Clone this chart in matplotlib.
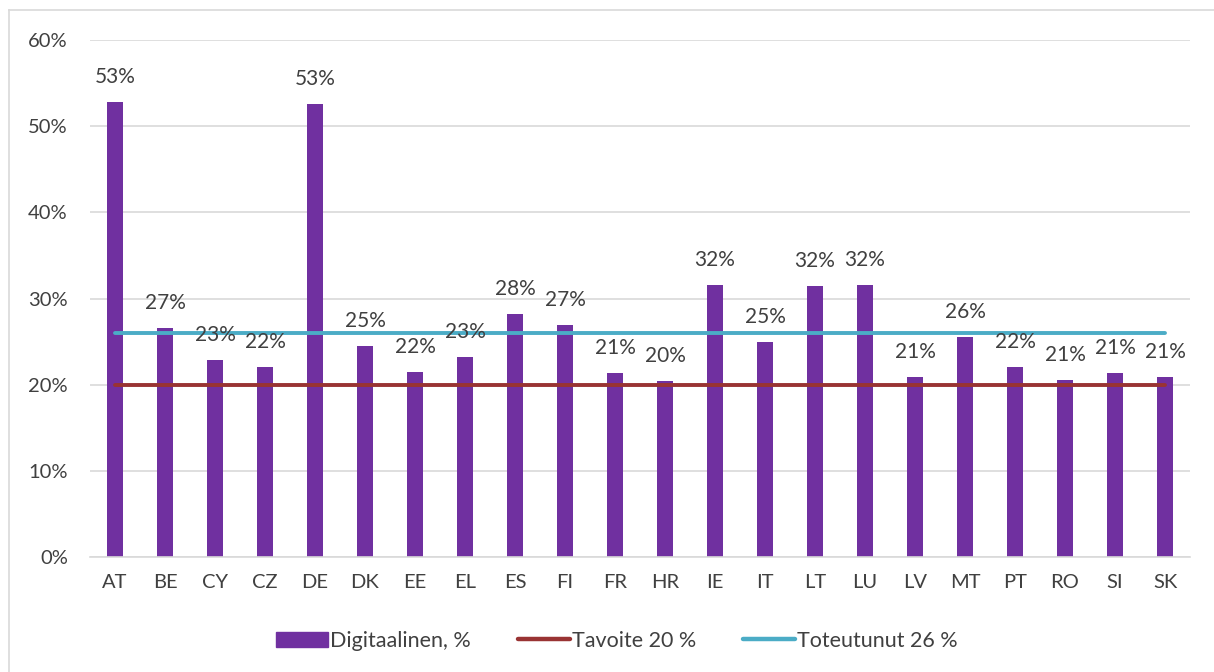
import matplotlib.pyplot as plt
from matplotlib.lines import Line2D

countries = ['AT', 'BE', 'CY', 'CZ', 'DE', 'DK', 'EE', 'EL', 'ES', 'FI', 'FR',
             'HR', 'IE', 'IT', 'LT', 'LU', 'LV', 'MT', 'PT', 'RO', 'SI', 'SK']
digital = [52.8, 26.6, 22.9, 22.0, 52.6, 24.5, 21.5, 23.2, 28.2, 26.9, 21.3,
           20.4, 31.6, 25.0, 31.5, 31.6, 20.9, 25.5, 22.0, 20.5, 21.4, 20.9]
target = 20
actual = 26

PURPLE = '#7030A0'
RED = '#993333'
BLUE = '#4BACC6'
TEXT = '#404040'

plt.rcParams['font.family'] = ['Lato', 'DejaVu Sans']

fig = plt.figure(figsize=(12.14, 6.72), dpi=100)
ax = fig.add_axes([90 / 1214, 115 / 672, 1100 / 1214, 517 / 672])

x = list(range(len(countries)))
ax.bar(x, digital, width=0.32, color=PURPLE, label='Digitaalinen, %', zorder=2)
ax.plot([x[0], x[-1]], [target, target], color=RED, lw=2.8, zorder=3,
        solid_capstyle='round', label='Tavoite 20 %')
ax.plot([x[0], x[-1]], [actual, actual], color=BLUE, lw=2.8, zorder=3,
        solid_capstyle='round', label='Toteutunut 26 %')

# data labels above bars (round half up like Excel)
for xi, v in zip(x, digital):
    ax.annotate(f'{int(v + 0.5)}%', (xi, v), xytext=(0, 18), textcoords='offset points',
                ha='center', va='center', fontsize=15, color=TEXT, zorder=4)

ax.set_xlim(-0.5, len(countries) - 0.5)
ax.set_ylim(0, 60)
ax.set_yticks(range(0, 61, 10))
ax.set_yticklabels([f'{t}%' for t in range(0, 61, 10)])
ax.set_xticks(x)
ax.set_xticklabels(countries)
ax.tick_params(length=0, labelsize=14.5, labelcolor=TEXT)
ax.tick_params(axis='y', pad=16)
ax.tick_params(axis='x', pad=12)
ax.grid(axis='y', color='#D9D9D9', lw=1.2, zorder=0)
for s in ['top', 'right', 'left']:
    ax.spines[s].set_visible(False)
ax.spines['bottom'].set_color('#D9D9D9')
ax.spines['bottom'].set_linewidth(1.2)

handles = [plt.Rectangle((0, 0), 1, 1, color=PURPLE),
           Line2D([], [], color=RED, lw=3.2, solid_capstyle='round'),
           Line2D([], [], color=BLUE, lw=3.2, solid_capstyle='round')]
fig.legend(handles, ['Digitaalinen, %', 'Tavoite 20 %', 'Toteutunut 26 %'],
           loc='center', bbox_to_anchor=(617 / 1214, 1 - 641 / 672), ncol=3,
           frameon=False, fontsize=15.5, labelcolor=TEXT, handlelength=2.4,
           handletextpad=0.1, columnspacing=2.2)

# chart border
fig.add_artist(Line2D([9 / 1214, 9 / 1214], [0, 1 - 10 / 672], color='#D9D9D9', lw=1.2))
fig.add_artist(Line2D([9 / 1214, 1], [1 - 10 / 672, 1 - 10 / 672], color='#D9D9D9', lw=1.2))

fig.savefig('out.png', dpi=100)
